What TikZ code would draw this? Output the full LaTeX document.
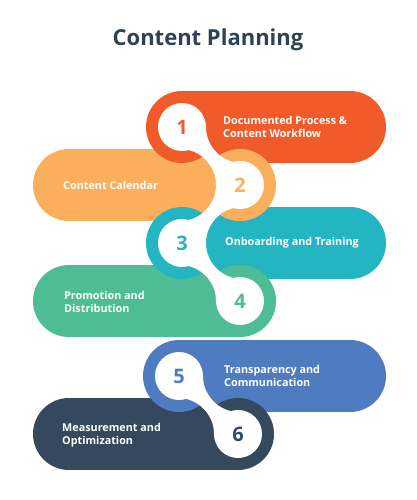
\documentclass[tikz,border=0pt]{standalone}
\usepackage{fontspec}
\setmainfont{Open Sans}
\definecolor{cRed}{HTML}{F15A29}
\definecolor{cOrange}{HTML}{FBAF5D}
\definecolor{cTeal}{HTML}{24B5C3}
\definecolor{cGreen}{HTML}{4EBD95}
\definecolor{cBlue}{HTML}{4F7BC0}
\definecolor{cNavy}{HTML}{34495E}
\definecolor{cTitle}{HTML}{2D4157}
\newcommand\pillbody[4]{% color, x1, x2, y
  \fill[#1] (#2,#4) circle[radius=36pt];
  \fill[#1] (#3,#4) circle[radius=36pt];
  \fill[#1] (#2,#4-36) rectangle (#3,#4+36);}
\newcommand\neckfill[4]{%
  \begin{scope}[even odd rule]
    \clip (-50,-50) rectangle (470,550) (#2) circle[radius=36pt] (#4) circle[radius=36pt];
    \fill[white] (#1)--(#2)--(#3)--(#4)--cycle;
  \end{scope}}
\tikzset{
  numtxt/.style={font=\fontsize{20}{20}\selectfont\bfseries, inner sep=0pt},
  labtxt/.style={font=\fontsize{10.8}{12.7}\selectfont\bfseries, text=white, align=left, anchor=west, inner sep=0pt},
}
\begin{document}
\begin{tikzpicture}[x=1pt,y=-1pt]
\useasboundingbox (0,0) rectangle (417,500);
\fill[white] (0,0) rectangle (417,500);
% centres
\coordinate (c1) at (182,127);
\coordinate (c2) at (240,185);
\coordinate (c3) at (182,243);
\coordinate (c4) at (240,301);
\coordinate (c5) at (179,376);
\coordinate (c6) at (238,434);
\coordinate (b1) at (242,127);
\coordinate (b2) at (180,185);
\coordinate (b3) at (242,243);
\coordinate (b4) at (180,301);
\coordinate (b5) at (239,376);
\coordinate (b6) at (178,434);
% title
\node[font=\fontsize{22}{26}\selectfont\bfseries, text=cTitle] (title) at (208,40) {Content Planning};
% bodies
\pillbody{cRed}{242}{350}{127}
\fill[cRed] (182,91) rectangle (242,127);
\pillbody{cOrange}{69}{180}{185}
\pillbody{cTeal}{242}{350}{243}
\pillbody{cGreen}{69}{180}{301}
\fill[cGreen] (180,301) rectangle (240,337);
\pillbody{cBlue}{239}{350}{376}
\fill[cBlue] (179,340) rectangle (239,376);
\pillbody{cNavy}{69}{178}{434}
\fill[cNavy] (178,434) rectangle (238,470);
% ring discs
\fill[cRed] (c1) circle[radius=36pt];
\fill[cOrange] (c2) circle[radius=36pt];
\fill[cTeal] (c3) circle[radius=36pt];
\fill[cGreen] (c4) circle[radius=36pt];
\fill[cBlue] (c5) circle[radius=36pt];
\fill[cNavy] (c6) circle[radius=36pt];
% white necks
\neckfill{c1}{b1}{c2}{b2}
\neckfill{c2}{b3}{c3}{b2}
\neckfill{c3}{b3}{c4}{b4}
\neckfill{c5}{b5}{c6}{b6}
% white holes
\foreach \c in {c1,c2,c3,c4,c5,c6} \fill[white] (\c) circle[radius=24pt];
% numbers
\node[numtxt, text=cRed] (n1) at (c1) {1};
\node[numtxt, text=cOrange] (n2) at (c2) {2};
\node[numtxt, text=cTeal] (n3) at (c3) {3};
\node[numtxt, text=cGreen] (n4) at (c4) {4};
\node[numtxt, text=cBlue] (n5) at (c5) {5};
\node[numtxt, text=cNavy] (n6) at (c6) {6};
% labels
\node[labtxt] (l1) at (223,127) {Documented Process \&\\Content Workflow};
\node[labtxt] (l2) at (63,185) {Content Calendar};
\node[labtxt] (l3) at (225,243) {Onboarding and Training};
\node[labtxt] (l4) at (64,302) {Promotion and\\Distribution};
\node[labtxt] (l5) at (224,376) {Transparency and\\Communication};
\node[labtxt] (l6) at (62,435) {Measurement and\\Optimization};
\end{tikzpicture}
\end{document}
